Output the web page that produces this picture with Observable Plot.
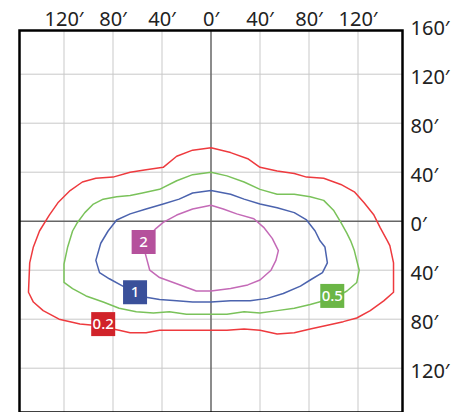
<!DOCTYPE html>
<html>
<head>
<meta charset="utf-8">
<script src="https://cdn.jsdelivr.net/npm/d3@7"></script>
<script src="https://cdn.jsdelivr.net/npm/@observablehq/plot@0.6"></script>
<style>
  html, body { margin: 0; padding: 0; background: #fff; }
</style>
</head>
<body>
<div id="chart"></div>
<script>
// Contour levels (isofootcandle values) and their colours
const levels = ["0.2", "0.5", "1", "2"];
const lineColors = ["#ee3a3e", "#7ac25a", "#4b63ae", "#c46ab7"];
const boxColors = ["#d1232a", "#6bb646", "#3a509a", "#b5519c"];

// Label positions (feet)
const labelX = [-88, 99, -62, -55];
const labelY = [-84, -61, -58, -17];

// Tick values (feet)
const xTicks = [-120, -80, -40, 0, 40, 80, 120];
const yTicks = [-160, -120, -80, -40, 0, 40, 80, 120, 160];
const gridX = [-120, -80, -40, 40, 80, 120];
const gridY = [-120, -80, -40, 40, 80, 120];

// Contour outlines, [x, y] in feet
const contour02 = [[0,60],[16,56],[30,51],[40,44],[54,41],[68,39],[78,36],[92,35],[106,30],[117,24],[125,15],[133,5],[138,-5],[144,-16],[146,-20],[149,-34],[149,-58],[141,-65],[130,-73],[119,-79],[108,-82],[95,-85],[81,-88],[68,-91],[54,-92],[40,-89],[27,-88],[13,-89],[0,-89],[-15,-89],[-28,-89],[-42,-89],[-53,-91],[-66,-91],[-75,-89],[-96,-85],[-107,-84],[-124,-80],[-137,-73],[-145,-66],[-149,-58],[-148,-34],[-145,-21],[-140,-8],[-132,5],[-125,15],[-115,25],[-105,32],[-94,35],[-80,36],[-66,40],[-53,42],[-39,44],[-28,53],[-15,58]];
const contour05 = [[0,40],[13,37],[27,32],[40,26],[54,22],[68,22],[81,20],[92,17],[100,9],[106,-1],[111,-10],[114,-16],[117,-24],[121,-40],[119,-50],[111,-57],[102,-62],[92,-65],[81,-68],[68,-71],[54,-73],[40,-75],[27,-74],[13,-76],[0,-76],[-20,-76],[-34,-74],[-47,-75],[-61,-74],[-75,-71],[-88,-66],[-102,-61],[-113,-55],[-120,-50],[-120,-35],[-117,-21],[-113,-8],[-109,-1],[-103,7],[-96,14],[-88,18],[-77,20],[-66,21],[-56,23],[-42,26],[-28,33],[-15,38]];
const contour1 = [[0,25],[16,22],[27,18],[40,14],[54,11],[68,7],[78,1],[85,-8],[89,-16],[93,-21],[95,-34],[91,-42],[81,-48],[73,-53],[59,-59],[46,-63],[32,-65],[16,-65],[0,-66],[-15,-66],[-28,-65],[-42,-64],[-53,-62],[-62,-57],[-72,-53],[-83,-47],[-91,-42],[-94,-32],[-90,-18],[-84,-8],[-77,1],[-66,6],[-53,10],[-39,14],[-26,18],[-15,23]];
const contour2 = [[0,13],[10,10],[21,6],[35,2],[43,-5],[50,-14],[55,-24],[53,-32],[49,-40],[40,-48],[30,-52],[16,-55],[0,-57],[-12,-57],[-28,-51],[-42,-46],[-50,-40],[-54,-25],[-54,-16],[-45,-6],[-39,-1],[-28,5],[-15,10]];

const contours = [contour02, contour05, contour1, contour2];

const lineRows = levels.flatMap((lv, i) =>
  [...contours[i], contours[i][0]].map(([x, y]) => ({level: lv, x, y, color: lineColors[i]}))
);
const labelRows = levels.map((lv, i) => ({level: lv, x: labelX[i], y: labelY[i], color: boxColors[i]}));

const prime = d => Math.abs(d) + "\u2032";

const chart = Plot.plot({
  width: 466,
  height: 412,
  marginLeft: 19,
  marginRight: 64,
  marginTop: 30,
  marginBottom: 0,
  style: {fontFamily: "'Noto Sans', sans-serif", fontSize: "20px", color: "#222", background: "#fff"},
  x: {domain: [-160, 160], range: [14.5, 406.5], axis: null, label: null},
  y: {domain: [-160, 160], range: [416.7, 24.7], axis: null, label: null},
  marks: [
    Plot.ruleX(gridX, {stroke: "#c9c9c9", strokeWidth: 1, strokeOpacity: 1}),
    Plot.ruleY(gridY, {stroke: "#c9c9c9", strokeWidth: 1, strokeOpacity: 1}),
    Plot.ruleX([0], {stroke: "#666", strokeWidth: 1.5}),
    Plot.ruleY([0], {stroke: "#666", strokeWidth: 1.5}),
    Plot.line(lineRows, {x: "x", y: "y", z: "level", stroke: "color", strokeWidth: 1.5, curve: "linear"}),
    Plot.dot(labelRows, {x: "x", y: "y", symbol: "square", r: 13.54, fill: "color", stroke: null}),
    Plot.text(labelRows, {x: "x", y: "y", text: "level", fill: "white", fontSize: 15, fontWeight: 500}),
    Plot.frame({stroke: "#000", strokeWidth: 2.5}),
    Plot.axisX(xTicks, {anchor: "top", tickSize: 0, tickPadding: 5, tickFormat: prime, label: null}),
    Plot.axisY(yTicks, {anchor: "right", tickSize: 0, tickPadding: 8, tickFormat: prime, label: null, dy: 3})
  ]
});
document.getElementById("chart").appendChild(chart);
</script>
</body>
</html>
